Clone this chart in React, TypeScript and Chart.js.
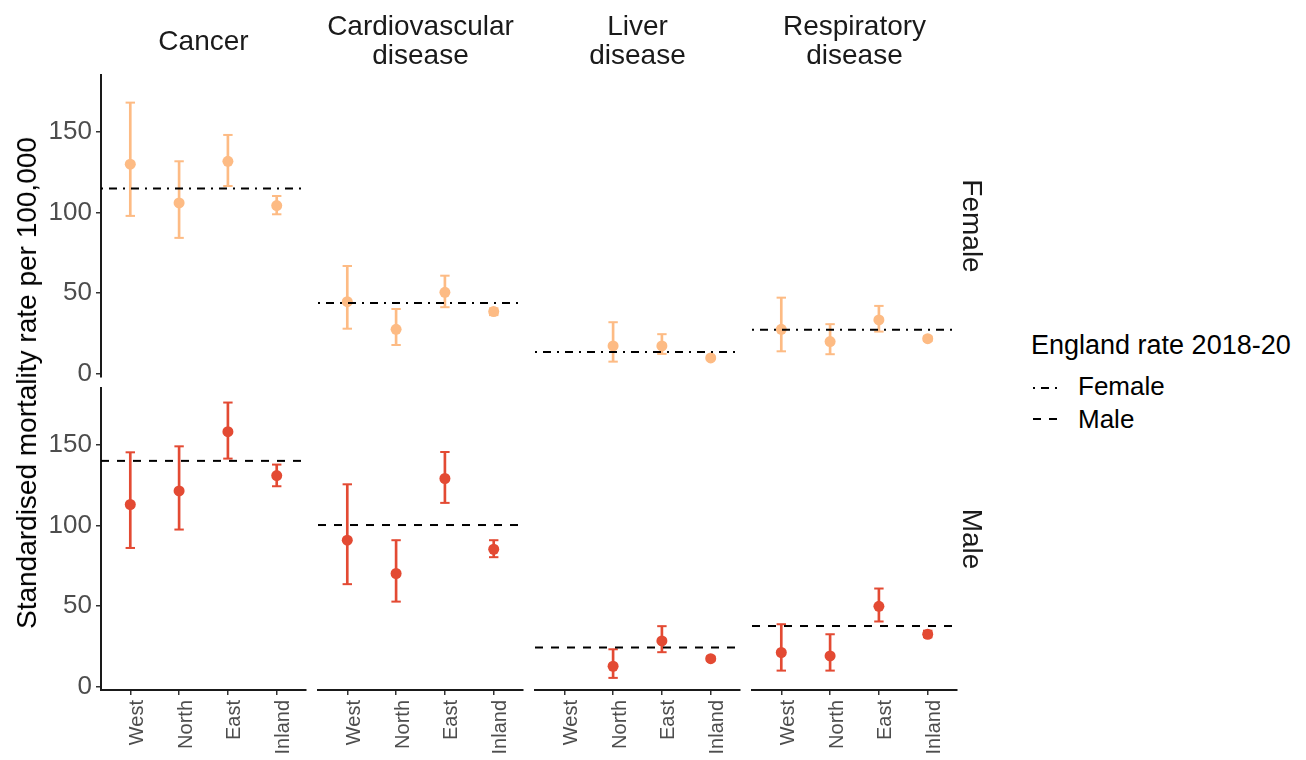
import React, { useEffect, useRef } from 'react';
import { Chart, registerables } from 'chart.js';

Chart.register(...registerables);

const FONT = "'Liberation Sans', Arial, Helvetica, sans-serif";
Chart.defaults.font.family = FONT;

// Categories and facets
const REGIONS = ['West', 'North', 'East', 'Inland'];
const DISEASE_LABELS = [['Cancer'], ['Cardiovascular', 'disease'], ['Liver', 'disease'], ['Respiratory', 'disease']];
const SEX_LABELS = ['Female', 'Male'];
const Y_TICKS = [0, 50, 100, 150];

// Female rates per disease (West, North, East, Inland) with 95% interval bounds
const FEMALE_RATE = [
  [129.8, 105.8, 131.6, 104.2],
  [44.7, 27.6, 50.5, 38.6],
  [null, 17.3, 17.3, 9.9],
  [27.6, 20.0, 33.4, 21.8],
];
const FEMALE_LOW = [
  [97.8, 84.2, 116.3, 98.8],
  [28.0, 17.9, 41.3, 36.4],
  [null, 7.6, 12.4, 9.2],
  [14.0, 12.2, 26.2, 20.4],
];
const FEMALE_HIGH = [
  [167.9, 131.6, 147.9, 110.1],
  [66.8, 40.2, 60.8, 40.6],
  [null, 32.0, 24.6, 10.6],
  [47.2, 30.8, 42.1, 23.2],
];

// Male rates per disease with interval bounds
const MALE_RATE = [
  [112.9, 121.3, 158.0, 130.8],
  [90.8, 70.2, 129.0, 85.2],
  [null, 12.8, 28.5, 17.5],
  [21.3, 19.2, 49.9, 32.6],
];
const MALE_LOW = [
  [86.0, 97.4, 141.3, 124.2],
  [63.6, 52.8, 113.9, 80.3],
  [null, 5.6, 21.5, 16.3],
  [10.1, 10.1, 40.5, 30.8],
];
const MALE_HIGH = [
  [145.2, 148.9, 176.0, 137.6],
  [125.4, 90.8, 145.4, 90.8],
  [null, 23.3, 37.6, 18.8],
  [38.8, 32.6, 60.9, 34.8],
];

// England rate 2018-20 per disease
const ENGLAND_FEMALE = [114.7, 43.9, 13.6, 27.4];
const ENGLAND_MALE = [139.9, 100.2, 24.4, 37.7];

const SEX_COLORS = ['#fdbb84', '#e34a33'];
const SEX_DASH = [[2, 6, 8, 6], [8, 8]];

// Panel geometry
const PLOT_LEFT = [101, 318, 535, 752];
const PLOT_W = 205;
const PLOT_TOP = [75, 388];
const PLOT_H = 302;
const Y_AXIS_W = 61;
const X_AXIS_H = 70;
const PAD = 12;
const Y_MIN = -1.9;
const Y_MAX = 185;

const englandLine = {
  id: 'englandLine',
  afterDatasetsDraw(chart: any, _args: any, opts: any) {
    if (opts == null || opts.value == null) return;
    const { ctx, chartArea } = chart;
    const y = chart.scales.y.getPixelForValue(opts.value);
    ctx.save();
    ctx.beginPath();
    ctx.setLineDash(opts.dash);
    ctx.lineWidth = 2;
    ctx.strokeStyle = '#000000';
    ctx.moveTo(chartArea.left, y);
    ctx.lineTo(chartArea.right, y);
    ctx.stroke();
    ctx.restore();
  },
};

const toPoints = (vals: (number | null)[]) =>
  vals.map((v, i) => (v == null ? null : { x: i + 1, y: v })).filter((p) => p !== null);

function Panel({ row, col }: { row: number; col: number }) {
  const ref = useRef<HTMLCanvasElement>(null);

  const showX = row === 1;
  const showY = col === 0;
  const left = showY ? PLOT_LEFT[0] - Y_AXIS_W : PLOT_LEFT[col] - PAD;
  const width = (showY ? Y_AXIS_W : PAD) + PLOT_W + PAD;
  const top = PLOT_TOP[row] - PAD;
  const height = PAD + PLOT_H + (showX ? X_AXIS_H : PAD);

  useEffect(() => {
    const rates = (row === 0 ? FEMALE_RATE : MALE_RATE)[col];
    const lows = (row === 0 ? FEMALE_LOW : MALE_LOW)[col];
    const highs = (row === 0 ? FEMALE_HIGH : MALE_HIGH)[col];
    const england = (row === 0 ? ENGLAND_FEMALE : ENGLAND_MALE)[col];
    const color = SEX_COLORS[row];

    const bars = lows
      .map((l, i) => (l == null || highs[i] == null ? null : { x: i + 1, y: [l, highs[i]] }))
      .filter((p) => p !== null);

    const capStyle = {
      type: 'line',
      showLine: false,
      pointStyle: 'line',
      pointRadius: 4.7,
      pointBorderWidth: 2,
      pointBorderColor: color,
      borderColor: color,
      clip: false,
      order: 1,
    };

    const chart = new Chart(ref.current as HTMLCanvasElement, {
      type: 'bar',
      data: {
        datasets: [
          {
            type: 'bar',
            data: bars as any,
            backgroundColor: color,
            borderWidth: 0,
            barThickness: 2,
            clip: false,
            order: 2,
          },
          { ...capStyle, data: toPoints(lows) } as any,
          { ...capStyle, data: toPoints(highs) } as any,
          {
            type: 'line',
            data: toPoints(rates) as any,
            showLine: false,
            pointStyle: 'circle',
            pointRadius: 5.5,
            pointBorderWidth: 0,
            pointBackgroundColor: color,
            borderColor: color,
            clip: false,
            order: 0,
          } as any,
        ],
      },
      options: {
        animation: false,
        responsive: false,
        events: [],
        layout: {
          padding: { left: showY ? 0 : PAD, right: PAD, top: PAD, bottom: showX ? 0 : PAD },
        },
        plugins: {
          legend: { display: false },
          tooltip: { enabled: false },
          englandLine: { value: england, dash: SEX_DASH[row] },
        } as any,
        scales: {
          x: {
            type: 'linear',
            min: 0.4,
            max: 4.6,
            bounds: 'data',
            offset: false,
            display: showX,
            afterBuildTicks: (s: any) => {
              s.ticks = REGIONS.map((_, i) => ({ value: i + 1 }));
            },
            afterFit: (s: any) => {
              if (showX) s.height = X_AXIS_H;
              s.paddingLeft = 0;
              s.paddingRight = 0;
            },
            grid: {
              display: true,
              drawOnChartArea: false,
              drawTicks: true,
              tickLength: 5,
              color: '#333333',
              lineWidth: 1.5,
              offset: false,
            },
            border: { display: true, color: '#1a1a1a', width: 2 },
            ticks: {
              autoSkip: false,
              minRotation: 90,
              maxRotation: 90,
              padding: 5,
              labelOffset: 7,
              color: '#4d4d4d',
              font: { size: 20, family: FONT, lineHeight: 1.0 },
              callback: (v: any) => REGIONS[Math.round(Number(v)) - 1] ?? '',
            },
          },
          y: {
            type: 'linear',
            min: Y_MIN,
            max: Y_MAX,
            bounds: 'data',
            display: showY,
            afterBuildTicks: (s: any) => {
              s.ticks = Y_TICKS.map((v) => ({ value: v }));
            },
            afterFit: (s: any) => {
              if (showY) s.width = Y_AXIS_W;
              s.paddingTop = 0;
              s.paddingBottom = 0;
            },
            grid: {
              display: true,
              drawOnChartArea: false,
              drawTicks: true,
              tickLength: 5,
              color: '#333333',
              lineWidth: 1.5,
            },
            border: { display: true, color: '#1a1a1a', width: 2 },
            ticks: {
              padding: 4,
              color: '#4d4d4d',
              font: { size: 26, family: FONT },
            },
          },
        },
      },
      plugins: [englandLine],
    } as any);

    return () => chart.destroy();
  }, [row, col]);

  return (
    <canvas
      ref={ref}
      width={width}
      height={height}
      style={{ position: 'absolute', left, top, width, height }}
    />
  );
}

export default function App() {
  const panels = [];
  for (let r = 0; r < 2; r++) {
    for (let c = 0; c < 4; c++) {
      panels.push(<Panel key={`${r}-${c}`} row={r} col={c} />);
    }
  }

  return (
    <div
      style={{
        position: 'absolute',
        left: 0,
        top: 0,
        width: 1306,
        height: 760,
        overflow: 'hidden',
        background: '#ffffff',
        fontFamily: FONT,
      }}
    >
      {panels}

      {DISEASE_LABELS.map((lines, c) => (
        <div
          key={`strip-${c}`}
          style={{
            position: 'absolute',
            left: PLOT_LEFT[c],
            top: 5,
            width: PLOT_W,
            height: 70,
            display: 'flex',
            flexDirection: 'column',
            justifyContent: 'center',
            alignItems: 'center',
            fontSize: 28,
            lineHeight: '29px',
            color: '#1a1a1a',
            whiteSpace: 'nowrap',
          }}
        >
          {lines.map((t) => (
            <div key={t}>{t}</div>
          ))}
        </div>
      ))}

      {SEX_LABELS.map((s, r) => (
        <div
          key={`sex-${s}`}
          style={{
            position: 'absolute',
            left: 972,
            top: PLOT_TOP[r] + PLOT_H / 2,
            transform: 'translate(-50%, -50%) rotate(90deg)',
            fontSize: 28,
            lineHeight: '32px',
            color: '#1a1a1a',
            whiteSpace: 'nowrap',
          }}
        >
          {s}
        </div>
      ))}

      <div
        style={{
          position: 'absolute',
          left: 27,
          top: 383,
          transform: 'translate(-50%, -50%) rotate(-90deg)',
          fontSize: 28,
          lineHeight: '32px',
          color: '#000000',
          whiteSpace: 'nowrap',
        }}
      >
        Standardised mortality rate per 100,000
      </div>

      <div
        style={{
          position: 'absolute',
          left: 1031,
          top: 329,
          fontSize: 27,
          lineHeight: '32px',
          color: '#000000',
          whiteSpace: 'nowrap',
        }}
      >
        England rate 2018-20
      </div>
      {SEX_LABELS.map((s, r) => (
        <React.Fragment key={`leg-${s}`}>
          <svg
            width={32}
            height={10}
            style={{ position: 'absolute', left: 1033, top: (r === 0 ? 388 : 419) - 5 }}
          >
            <line
              x1={0}
              y1={5}
              x2={30}
              y2={5}
              stroke="#000000"
              strokeWidth={1.8}
              strokeDasharray={SEX_DASH[r].join(' ')}
            />
          </svg>
          <div
            style={{
              position: 'absolute',
              left: 1078,
              top: (r === 0 ? 386 : 419) - 16,
              fontSize: 26,
              lineHeight: '32px',
              color: '#000000',
              whiteSpace: 'nowrap',
            }}
          >
            {s}
          </div>
        </React.Fragment>
      ))}
    </div>
  );
}
